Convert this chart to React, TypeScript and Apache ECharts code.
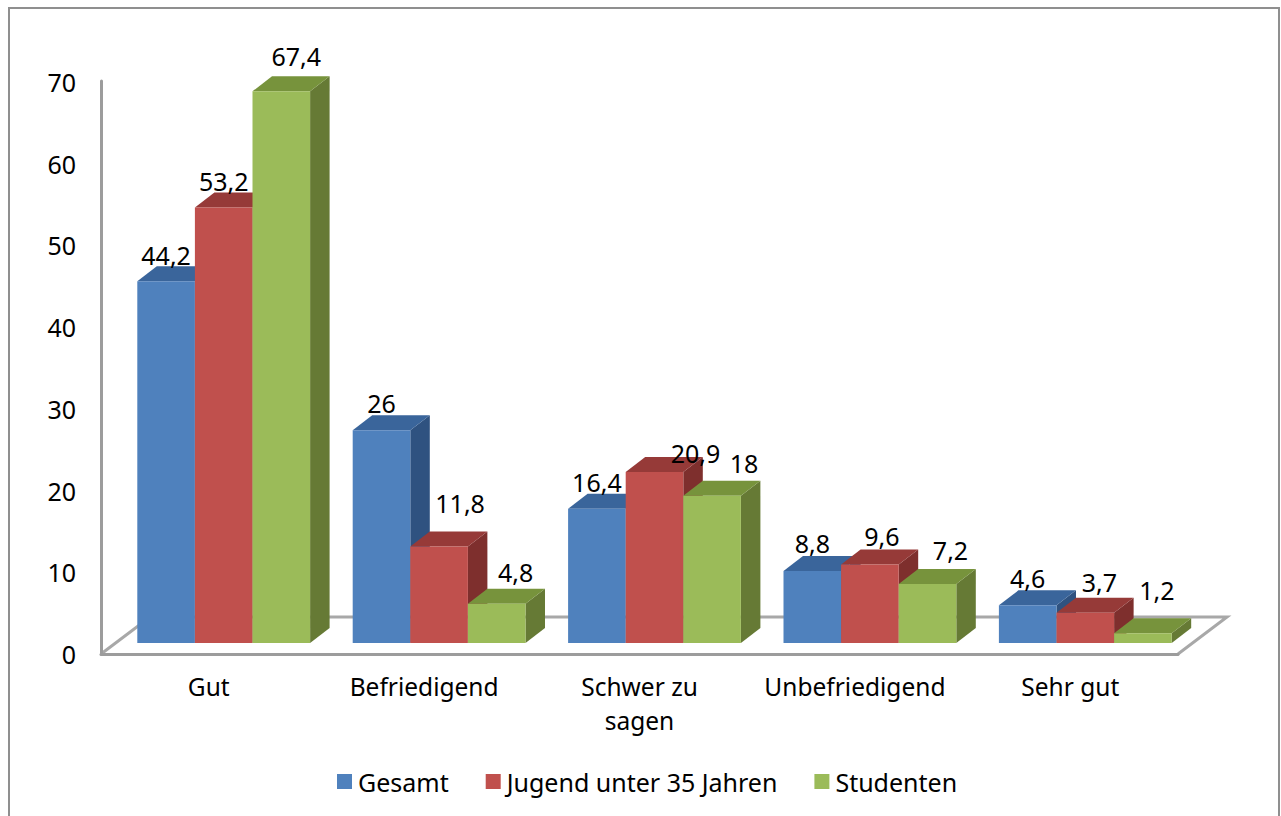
import React, { useEffect, useRef } from "react";
import * as echarts from "echarts";

const categories = ["Gut", "Befriedigend", "Schwer zu\nsagen", "Unbefriedigend", "Sehr gut"];
const gesamt = [44.2, 26, 16.4, 8.8, 4.6];
const jugend = [53.2, 11.8, 20.9, 9.6, 3.7];
const studenten = [67.4, 4.8, 18, 7.2, 1.2];
const yTicks = { min: 0, max: 70, interval: 10 };

const FONT = "'Noto Sans', sans-serif";
const seriesDefs = [
  { name: "Gesamt", values: gesamt, front: "#4f81bd", top: "#3a659b", side: "#2f5280",
    labelShift: [[0, -26], [0, -27], [0, -27], [0, -28], [0, -27]] },
  { name: "Jugend unter 35 Jahren", values: jugend, front: "#c0504d", top: "#963a38", side: "#7e2f2d",
    labelShift: [[0, -27], [21, -43], [41, -19], [12, -28], [14, -31]] },
  { name: "Studenten", values: studenten, front: "#9bbb59", top: "#77933c", side: "#667a35",
    labelShift: [[15, -35], [19, -32], [32, -33], [23, -34], [14, -43]] },
];

const BAR_W = 57.6, DX = 19.5, DY = 15, OFF_X = 15, OFF_Y = -11;

function makeRender(si: number) {
  const def = seriesDefs[si];
  return (params: any, api: any) => {
    const cat = api.value(0);
    const val = api.value(1);
    const base = api.coord([cat, 0]);
    const topPt = api.coord([cat, val]);
    const x0 = base[0] + OFF_X + (si - 1.5) * BAR_W;
    const x1 = x0 + BAR_W;
    const yb = base[1] + OFF_Y;
    const yt = topPt[1] + OFF_Y;
    const shift = def.labelShift[params.dataIndex];
    const z = 10 + si * 3;
    return {
      type: "group",
      children: [
        { type: "polygon", z2: z, shape: { points: [[x1, yb], [x1 + DX, yb - DY], [x1 + DX, yt - DY], [x1, yt]] }, style: { fill: def.side } },
        { type: "polygon", z2: z + 1, shape: { points: [[x0, yt], [x0 + DX, yt - DY], [x1 + DX, yt - DY], [x1, yt]] }, style: { fill: def.top } },
        { type: "rect", z2: z + 2, shape: { x: x0, y: yt, width: BAR_W, height: yb - yt }, style: { fill: def.front } },
        { type: "text", z2: 100, x: (x0 + x1) / 2 + shift[0], y: yt + shift[1],
          style: { text: String(val).replace(".", ","), fill: "#000", font: `25px ${FONT}`, align: "center", verticalAlign: "middle" } },
      ],
    };
  };
}

export default function App() {
  const ref = useRef<HTMLDivElement>(null);
  useEffect(() => {
    const chart = echarts.init(ref.current!, null, { renderer: "svg" });
    chart.setOption({
      animation: false,
      backgroundColor: "#ffffff",
      textStyle: { fontFamily: FONT },
      grid: [
        { left: 101, top: 82, width: 1077, height: 572 },
        { left: 101, top: 81, width: 1077, height: 573 },
      ],
      xAxis: [
        { gridIndex: 0, type: "category", data: categories,
          axisLine: { show: false }, axisTick: { show: false },
          axisLabel: { interval: 0, margin: 15, fontSize: 24.5, lineHeight: 34, color: "#000", fontFamily: FONT } },
        { gridIndex: 1, type: "category", data: categories,
          axisLine: { show: true, lineStyle: { color: "#9c9c9c", width: 3 } }, axisTick: { show: false }, axisLabel: { show: false } },
      ],
      yAxis: [
        { gridIndex: 0, type: "value", ...yTicks,
          axisLine: { show: false }, axisTick: { show: false }, splitLine: { show: false },
          axisLabel: { margin: 25, fontSize: 25, color: "#000", fontFamily: FONT } },
        { gridIndex: 1, type: "value", ...yTicks,
          axisLine: { show: true, onZero: false, lineStyle: { color: "#9c9c9c", width: 3 } },
          axisTick: { show: false }, splitLine: { show: false }, axisLabel: { show: false } },
      ],
      legend: {
        left: 332, top: 764, icon: "rect", itemWidth: 15, itemHeight: 15, itemGap: 37,
        data: seriesDefs.map((d) => d.name),
        textStyle: { fontSize: 25, color: "#000", fontFamily: FONT, padding: [0, 0, 0, 1] },
      },
      graphic: [
        { type: "polyline", silent: true, shape: { points: [[9, 816], [9, 8], [1279, 8], [1279, 816]] },
          style: { fill: "none", stroke: "#8f8f8f", lineWidth: 2 } },
        { type: "polyline", silent: true, shape: { points: [[101, 654], [150, 617], [1227, 617], [1178, 654]] },
          style: { fill: "none", stroke: "#a8a8a8", lineWidth: 3 } },
      ],
      series: seriesDefs.map((d, si) => ({
        type: "custom",
        name: d.name,
        xAxisIndex: 1,
        yAxisIndex: 1,
        clip: false,
        itemStyle: { color: d.front },
        renderItem: makeRender(si),
        encode: { x: 0, y: 1 },
        data: d.values.map((v, i) => [i, v]),
      })),
    });
    return () => chart.dispose();
  }, []);
  return <div ref={ref} style={{ position: "fixed", left: 0, top: 0, width: 1281, height: 816 }} />;
}
